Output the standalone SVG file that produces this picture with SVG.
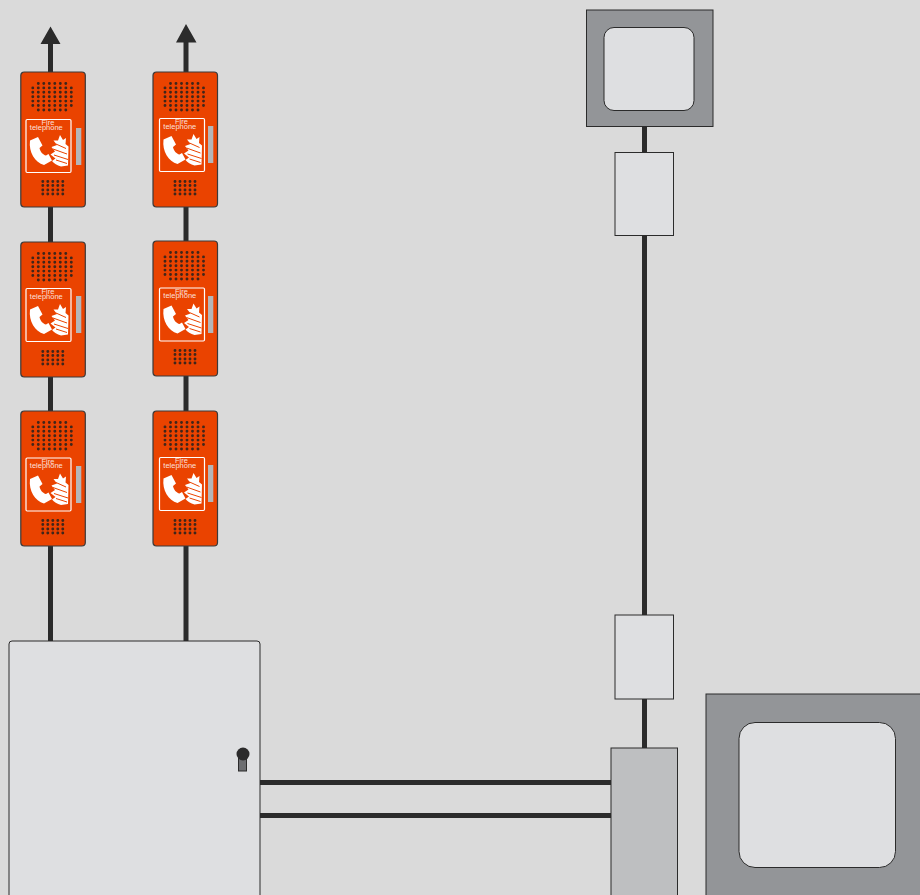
<svg xmlns="http://www.w3.org/2000/svg" width="920" height="895" viewBox="0 0 920 895">
<style>
.w{stroke:#2b2b2b;stroke-width:5;fill:none}
.body{fill:#ea4300;stroke:#3a3a3a;stroke-width:1.2}
.sign{fill:none;stroke:#fff;stroke-width:1.2}
.bar{fill:#b5b6b8}
.dot{stroke:#40261a;stroke-width:2.9;stroke-linecap:round;stroke-dasharray:0 5.5;fill:none}
.dots{stroke:#40261a;stroke-width:2.9;stroke-linecap:round;stroke-dasharray:0 5;fill:none}
.t{font-family:"Liberation Sans",Arial,sans-serif;font-size:7.5px;fill:#fff;fill-opacity:.85;text-anchor:middle}
.box{fill:#dedfe1;stroke:#2b2b2b;stroke-width:1}
.hs{fill:#939598;stroke:#2b2b2b;stroke-width:1}
.ic{fill:#fff}
.slit{stroke:#ea4300;stroke-width:1;fill:none}
</style>
<defs>
<g id="housing">
<rect class="body" x="0" y="0" width="64.500" height="135" rx="3.500"/>
<path class="dot" d="M17.500 11.500H50M12 15.900H53M12 20.300H53M12 24.700H53M12 29.100H53M12 33.500H53M17.500 38H50"/>
<path class="dots" d="M22 109.500H43M22 113.500H43M22 118H43M22 122H43"/>
</g>
<g id="face">
<rect class="sign" x="0" y="0" width="45" height="53" rx="1.200"/>
<text class="t" x="22" y="5.500">Fire</text>
<text class="t" x="20.300" y="10">telephone</text>
<path class="ic" d="M4 21L12 17.500L16.500 26L13.500 28.500C14 32 17 35.500 20 36L22.500 34.500L26 41L18 45.500C9 43 2.500 33 4 21Z"/>
<path class="ic" d="M34 15.500L37 20.500L40 18.500L39.500 24.500L42.500 27L42 46L35 47C31 46 28 44 26 41.500L29.500 39L24.500 35L29 32L25.500 27.500L31 25.500L27.500 21L32 21Z"/>
<path class="slit" d="M30 24.500L40 29M27 29.500L41 34.500M28 35.500L42 40M30 40.500L41 44"/>
</g>
</defs>
<rect width="920" height="895" fill="#dadada"/>
<g id="connectors">
<path class="w" d="M50.500 40V645M186 40V645M644.500 120V760M255 782.500H620M255 815.500H620"/>
<path d="M50.500 26.500L60.500 44H40.500ZM186 24L196.500 42.500H176Z" fill="#2b2b2b"/>
</g>
<g id="phone-a1"><use href="#housing" x="20.800" y="72"/><use href="#face" x="26" y="119.500"/><rect class="bar" x="76" y="128" width="5.300" height="37"/></g>
<g id="phone-a2"><use href="#housing" x="20.800" y="242"/><use href="#face" x="26" y="288.500"/><rect class="bar" x="76" y="296" width="5.300" height="37"/></g>
<g id="phone-a3"><use href="#housing" x="20.800" y="411"/><use href="#face" x="26" y="458"/><rect class="bar" x="76" y="466" width="5.300" height="37"/></g>
<g id="phone-b1"><use href="#housing" x="153" y="72"/><use href="#face" x="159.500" y="118.500"/><rect class="bar" x="208" y="126" width="5.300" height="37"/></g>
<g id="phone-b2"><use href="#housing" x="153" y="241"/><use href="#face" x="159.500" y="288"/><rect class="bar" x="208" y="296" width="5.300" height="37"/></g>
<g id="phone-b3"><use href="#housing" x="153" y="411"/><use href="#face" x="159.500" y="457.500"/><rect class="bar" x="208" y="465" width="5.300" height="37"/></g>
<g id="window-top">
<rect class="hs" x="586.500" y="10" width="126.500" height="116.500"/>
<rect class="box" x="604" y="27.500" width="90" height="83" rx="10"/>
</g>
<g id="junction-top"><rect class="box" x="615" y="152.500" width="58.500" height="83"/></g>
<g id="junction-bottom"><rect class="box" x="615" y="615" width="58.500" height="84"/></g>
<g id="terminal"><rect x="611" y="748" width="66.500" height="160" fill="#bebfc1" stroke="#2b2b2b"/></g>
<g id="window-bottom">
<rect class="hs" x="706" y="694" width="230" height="220"/>
<rect class="box" x="739" y="722.500" width="156.500" height="145" rx="16"/>
</g>
<g id="panel">
<rect class="box" x="9" y="641" width="251" height="270" rx="3"/>
<rect x="238.500" y="755" width="8" height="16" fill="#6d6e71" stroke="#2b2b2b"/>
<circle cx="243" cy="754" r="6.500" fill="#2b2b2b"/>
</g>
</svg>
